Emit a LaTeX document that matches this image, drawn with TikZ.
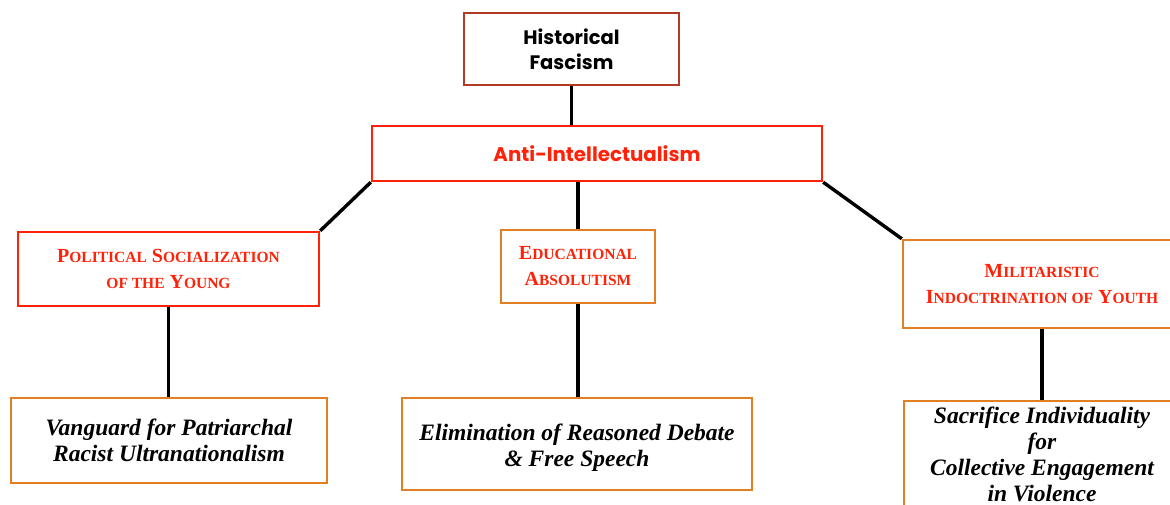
\documentclass[tikz,border=0pt]{standalone}
\usepackage{fontspec}
\setmainfont{Liberation Serif}
\newfontfamily\gothic{Poppins}
\definecolor{brickred}{RGB}{176,58,38}
\definecolor{hotred}{RGB}{255,34,8}
\definecolor{amber}{RGB}{226,126,36}
% hand-made bold small caps: large initial, smaller capitals after it
\newcommand\capsA[1]{{\fontsize{20}{26}\selectfont #1}}
\newcommand\capsB[1]{{\fontsize{15.5}{26}\selectfont #1}}
\begin{document}
\begin{tikzpicture}[x=1pt,y=-1pt,
  box/.style={draw, line width=2.4pt, fill=white, inner sep=0pt, align=center},
  topbox/.style={box, draw=brickred, font=\gothic\bfseries\fontsize{19.5}{25}\selectfont, text=black},
  redbox/.style={box, draw=hotred},
  orangebox/.style={box, draw=amber},
  sctext/.style={text=hotred, font=\bfseries\fontsize{20}{26}\selectfont},
  ittext/.style={text=black, font=\bfseries\itshape\fontsize{23.5}{26}\selectfont},
  label text/.style={ittext, align=center, inner sep=0pt},
  link/.style={draw=black, line width=3.4pt}]
\useasboundingbox (0,0) rectangle (1170,504);
\clip (0,0) rectangle (1170,504);

% top of the tree
\node[topbox, minimum width=215pt, minimum height=72pt] (hist) at (571.5,49) {Historical\\Fascism};
\node[redbox, minimum width=450pt, minimum height=55pt, text=hotred,
      font=\gothic\bfseries\fontsize{19.8}{24}\selectfont] (anti) at (597,153.5) {Anti-Intellectualism};

% middle row
\node[redbox, sctext, minimum width=301pt, minimum height=74pt] (pol) at (168.5,269)
  {\capsA{P}\capsB{OLITICAL} \capsA{S}\capsB{OCIALIZATION}\\\capsB{OF THE} \capsA{Y}\capsB{OUNG}};
\node[orangebox, sctext, minimum width=154pt, minimum height=73pt] (edu) at (578,266.5)
  {\capsA{E}\capsB{DUCATIONAL}\\\capsA{A}\capsB{BSOLUTISM}};
\node[orangebox, sctext, minimum width=278pt, minimum height=88pt] (mil) at (1042,284)
  {\capsA{M}\capsB{ILITARISTIC}\\\capsA{I}\capsB{NDOCTRINATION OF} \capsA{Y}\capsB{OUTH}};

% bottom row
\node[orangebox, ittext, minimum width=316pt, minimum height=85pt] (van) at (169,440.5)
  {Vanguard for Patriarchal\\Racist Ultranationalism};
\node[orangebox, minimum width=350pt, minimum height=92pt] (elim) at (577,444) {};
\node[label text] (elimtext) at (577,448)
  {Elimination of Reasoned Debate\\\& Free Speech};
\node[orangebox, minimum width=276pt, minimum height=115pt, anchor=north] (sac) at (1042,400) {};
\node[label text, anchor=north] (sactext) at (1042,407)
  {Sacrifice Individuality\\for\\Collective Engagement\\in Violence};

% connectors
\draw[link] (hist.south) -- (hist.south |- anti.north);
\draw[link] (edu.north |- anti.south) -- (edu.north);
\draw[link] (anti.south west) -- (pol.north east);
\draw[link] (anti.south east) -- (mil.north west);
\draw[link] (pol.south) -- (pol.south |- van.north);
\draw[link] (edu.south) -- (edu.south |- elim.north);
\draw[link] (mil.south) -- (sac.north);
\end{tikzpicture}
\end{document}
